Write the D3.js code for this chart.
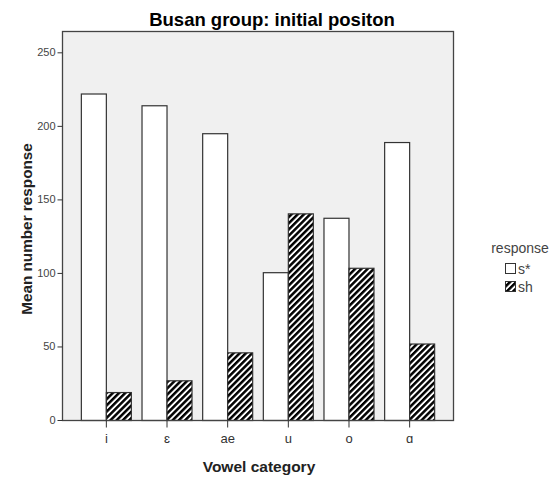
<!DOCTYPE html>
<html>
<head>
<meta charset="utf-8">
<script src="https://cdn.jsdelivr.net/npm/d3@7"></script>
<style>
  body { margin: 0; background: #fff; }
  svg { font-family: "Liberation Sans", Arial, sans-serif; }
</style>
</head>
<body>
<svg id="chart" width="560" height="478"></svg>
<script>
const categories = ["i", "ɛ", "ae", "u", "o", "ɑ"];
const seriesNames = ["s*", "sh"];
const sStarValues = [222, 214, 195, 100.5, 137.5, 189];
const shValues = [19, 27, 46, 140.5, 103.5, 52];
const yTicks = [0, 50, 100, 150, 200, 250];

const svg = d3.select("#chart");
const plot = { left: 62, right: 453, top: 31, bottom: 420 };

// hatch pattern
const defs = svg.append("defs");
const pat = defs.append("pattern")
  .attr("id", "hatch")
  .attr("patternUnits", "userSpaceOnUse")
  .attr("width", 4.4).attr("height", 4.4)
  .attr("patternTransform", "rotate(45)");
pat.append("rect").attr("width", 4.4).attr("height", 4.4).attr("fill", "#fff");
pat.append("rect").attr("x", 0).attr("y", 0).attr("width", 2.5).attr("height", 4.4).attr("fill", "#000");

const x = d3.scalePoint().domain(categories).range([plot.left, plot.right]).padding(0.723);
const y = d3.scaleLinear().domain([0, 264.5]).range([plot.bottom, plot.top]);
const barW = 25;

// plot background
svg.append("rect")
  .attr("x", plot.left).attr("y", plot.top)
  .attr("width", plot.right - plot.left).attr("height", plot.bottom - plot.top)
  .attr("fill", "#f0f0f0");

const data = categories.map((c, i) => ({ c, vals: [sStarValues[i], shValues[i]] }));
const g = svg.append("g");
data.forEach(d => {
  d.vals.forEach((v, k) => {
    const x0 = x(d.c) + (k === 0 ? -barW : 0);
    g.append("rect")
      .attr("x", x0 + 0.5).attr("y", y(v) + 0.5)
      .attr("width", barW).attr("height", y(0) - y(v))
      .attr("fill", k === 0 ? "#fff" : "url(#hatch)")
      .attr("stroke", "#333").attr("stroke-width", 1.2);
  });
});

// frame
svg.append("rect")
  .attr("x", plot.left + 0.5).attr("y", plot.top + 0.5)
  .attr("width", plot.right - plot.left).attr("height", plot.bottom - plot.top)
  .attr("fill", "none").attr("stroke", "#444").attr("stroke-width", 1.3);

// y axis
const yAxis = svg.append("g")
  .attr("transform", `translate(${plot.left + 0.5},0)`)
  .call(d3.axisLeft(y).tickValues(yTicks).tickSize(5).tickPadding(2).tickFormat(d3.format("d")));
yAxis.select(".domain").remove();
yAxis.selectAll("line").attr("stroke", "#333");
yAxis.selectAll("text").attr("fill", "#444").style("font-size", "11px").style("font-family", "'Liberation Sans', Arial, sans-serif");

// x axis
const xAxis = svg.append("g")
  .attr("transform", `translate(0,${plot.bottom + 0.5})`)
  .call(d3.axisBottom(x).tickSize(7).tickPadding(6));
xAxis.select(".domain").remove();
xAxis.selectAll("line").attr("stroke", "#333");
xAxis.selectAll("text").attr("fill", "#333").style("font-size", "13px").style("font-family", "'Liberation Sans', Arial, sans-serif");

// title
svg.append("text")
  .attr("x", 272).attr("y", 26)
  .attr("text-anchor", "middle")
  .attr("font-weight", "bold").attr("font-size", "18.5px").attr("fill", "#000")
  .text("Busan group: initial positon");

// axis labels
svg.append("text")
  .attr("x", 259).attr("y", 472)
  .attr("text-anchor", "middle")
  .attr("font-weight", "bold").attr("font-size", "15.5px").attr("fill", "#222")
  .text("Vowel category");

svg.append("text")
  .attr("transform", "translate(32,229) rotate(-90)")
  .attr("text-anchor", "middle")
  .attr("font-weight", "bold").attr("font-size", "15.3px").attr("fill", "#222")
  .text("Mean number response");

// legend
const leg = svg.append("g");
leg.append("text").attr("x", 520).attr("y", 253)
  .attr("text-anchor", "middle").attr("font-size", "14px").attr("fill", "#444")
  .text("response");
seriesNames.forEach((s, i) => {
  const yy = 263 + i * 18;
  leg.append("rect").attr("x", 505.5).attr("y", yy + 0.5).attr("width", 10).attr("height", 10)
    .attr("fill", i === 0 ? "#fff" : "url(#hatch)").attr("stroke", "#333").attr("stroke-width", 1);
  leg.append("text").attr("x", 518).attr("y", yy + 11)
    .attr("font-size", "14px").attr("fill", "#444").text(s);
});
</script>
</body>
</html>
